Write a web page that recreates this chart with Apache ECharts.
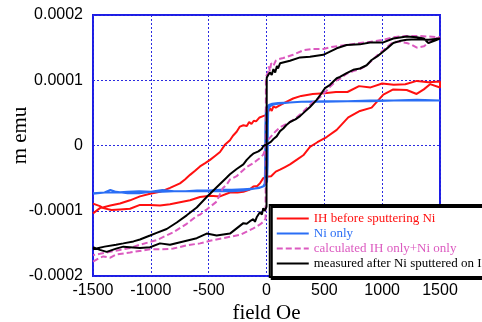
<!DOCTYPE html>
<html>
<head>
<meta charset="utf-8">
<script src="https://cdn.jsdelivr.net/npm/echarts@6/dist/echarts.min.js"></script>
<style>
  html, body { margin: 0; padding: 0; background: #fff; }
  #chart { width: 482px; height: 322px; }
</style>
</head>
<body>
<div id="chart"></div>
<script>
// field in Oe, moment in units of 1e-4 emu
const xTicks = [-1500, -1000, -500, 0, 500, 1000, 1500];
const yTicks = [-2, -1, 0, 1, 2];

const redDownH = [1500, 1400, 1300, 1200, 1100, 1000, 900, 800, 700, 600, 500, 400, 300, 230, 150, 110, 80, 60, 45, 30, 15, 5, 0, -10, -30, -60, -90, -110, -130, -150, -170, -200, -230, -258, -290, -316, -360, -402, -445, -488, -530, -575, -620, -661, -705, -748, -834, -921, -1007, -1094, -1180, -1267, -1350, -1440, -1500];
const redDownM = [0.98, 0.97, 0.99, 0.94, 0.93, 0.95, 0.89, 0.91, 0.82, 0.82, 0.80, 0.79, 0.76, 0.72, 0.65, 0.61, 0.58, 0.60, 0.53, 0.57, 0.52, 0.55, 0.47, 0.49, 0.45, 0.43, 0.37, 0.38, 0.33, 0.36, 0.30, 0.31, 0.29, 0.21, 0.15, 0.08, 0.01, -0.10, -0.16, -0.22, -0.27, -0.32, -0.39, -0.45, -0.52, -0.58, -0.65, -0.71, -0.74, -0.78, -0.84, -0.89, -0.92, -0.96, -1.04];
const redUpH = [-1500, -1440, -1411, -1340, -1267, -1180, -1094, -1007, -921, -834, -748, -661, -575, -488, -402, -316, -250, -200, -150, -114, -80, -56, -28, 0, 40, 80, 117, 160, 203, 260, 318, 376, 440, 520, 607, 707, 808, 909, 1010, 1096, 1212, 1298, 1360, 1414, 1500];
const redUpM = [-0.89, -0.93, -0.96, -0.99, -0.98, -0.97, -0.91, -0.91, -0.92, -0.90, -0.87, -0.84, -0.79, -0.77, -0.78, -0.72, -0.72, -0.71, -0.68, -0.63, -0.62, -0.58, -0.50, -0.48, -0.47, -0.40, -0.37, -0.33, -0.29, -0.22, -0.15, -0.02, 0.05, 0.13, 0.24, 0.43, 0.53, 0.58, 0.78, 0.86, 0.85, 0.79, 0.86, 0.94, 0.89];

const blueDownH = [1500, 1300, 1100, 900, 700, 500, 300, 200, 100, 50, 20, 5, -5, -10, -12, -15, -30, -60, -100, -200, -300, -400, -500, -600, -700, -800, -900, -1000, -1100, -1200, -1300, -1400, -1500];
const blueDownM = [0.70, 0.70, 0.69, 0.69, 0.68, 0.68, 0.67, 0.66, 0.65, 0.64, 0.62, 0.60, 0.56, 0.30, -0.30, -0.58, -0.63, -0.65, -0.66, -0.67, -0.68, -0.68, -0.69, -0.69, -0.70, -0.70, -0.71, -0.71, -0.70, -0.71, -0.72, -0.72, -0.73];
const blueUpH = [-1500, -1400, -1350, -1300, -1200, -1100, -1000, -900, -800, -700, -600, -500, -400, -300, -200, -100, -50, -20, -5, 5, 10, 12, 15, 30, 60, 100, 200, 300, 500, 700, 900, 1100, 1300, 1500];
const blueUpM = [-0.74, -0.72, -0.68, -0.71, -0.73, -0.73, -0.71, -0.68, -0.70, -0.70, -0.70, -0.70, -0.70, -0.70, -0.69, -0.66, -0.64, -0.62, -0.60, -0.55, -0.30, 0.30, 0.55, 0.60, 0.63, 0.64, 0.66, 0.67, 0.67, 0.68, 0.68, 0.69, 0.69, 0.69];

const calcUpH = [-1500, -1440, -1411, -1350, -1300, -1180, -1007, -900, -806, -690, -575, -488, -402, -316, -229, -171, -114, -56, -28, -8, -5, 0, 10, 20, 30, 40, 60, 80, 100, 145, 230, 320, 400, 491, 560, 693, 808, 900, 1010, 1096, 1212, 1300, 1400, 1500];
const calcUpM = [-1.78, -1.72, -1.70, -1.72, -1.67, -1.64, -1.59, -1.59, -1.58, -1.53, -1.50, -1.46, -1.43, -1.40, -1.37, -1.32, -1.27, -1.21, -1.17, -1.12, 1.05, 1.08, 1.11, 1.21, 1.14, 1.26, 1.22, 1.30, 1.32, 1.34, 1.39, 1.46, 1.48, 1.48, 1.51, 1.54, 1.57, 1.59, 1.62, 1.66, 1.68, 1.68, 1.67, 1.66];
const calcDownH = [1500, 1450, 1414, 1360, 1300, 1250, 1212, 1150, 1096, 1050, 1010, 950, 909, 866, 808, 750, 693, 635, 607, 549, 520, 463, 434, 400, 376, 318, 260, 203, 160, 117, 80, 40, 10, 0, -13, -28, -56, -85, -114, -171, -258, -316, -344, -380, -431, -517, -575, -603, -690, -806, -949, -1094, -1180, -1267, -1353, -1440, -1500];
const calcDownM = [1.66, 1.64, 1.59, 1.52, 1.50, 1.55, 1.57, 1.59, 1.59, 1.52, 1.46, 1.37, 1.30, 1.23, 1.17, 1.14, 1.10, 1.02, 1.00, 0.90, 0.84, 0.74, 0.70, 0.66, 0.62, 0.52, 0.43, 0.36, 0.32, 0.28, 0.22, 0.14, 0.08, 0.03, -0.07, -0.14, -0.19, -0.23, -0.27, -0.33, -0.47, -0.52, -0.60, -0.66, -0.86, -0.98, -1.06, -1.08, -1.20, -1.33, -1.45, -1.52, -1.57, -1.60, -1.63, -1.66, -1.68];

const measUpH = [-1500, -1440, -1382, -1300, -1238, -1094, -1007, -921, -834, -719, -603, -517, -431, -316, -258, -200, -171, -143, -114, -100, -85, -70, -56, -40, -28, -15, 0, 2, 15, 30, 45, 60, 75, 90, 100, 117, 160, 203, 290, 376, 491, 607, 693, 808, 895, 1010, 1096, 1212, 1298, 1360, 1399, 1457, 1500];
const measUpM = [-1.56, -1.60, -1.63, -1.58, -1.55, -1.57, -1.56, -1.50, -1.52, -1.47, -1.42, -1.35, -1.38, -1.35, -1.27, -1.19, -1.20, -1.16, -1.13, -1.17, -1.10, -1.13, -1.02, -1.06, -0.96, -1.00, -0.94, 1.04, 1.08, 1.12, 1.08, 1.17, 1.12, 1.22, 1.18, 1.26, 1.28, 1.30, 1.35, 1.36, 1.39, 1.49, 1.54, 1.55, 1.58, 1.58, 1.64, 1.67, 1.66, 1.64, 1.57, 1.61, 1.64];
const measDownH = [1500, 1400, 1300, 1212, 1150, 1096, 1050, 1010, 960, 909, 866, 808, 750, 693, 635, 607, 549, 506, 463, 434, 376, 320, 290, 250, 203, 170, 145, 117, 88, 60, 40, 16, 0, -10, -28, -40, -56, -70, -85, -110, -143, -171, -200, -258, -316, -344, -431, -517, -603, -690, -776, -863, -950, -1007, -1094, -1150, -1238, -1300, -1400, -1500];
const measDownM = [1.64, 1.62, 1.63, 1.62, 1.60, 1.57, 1.50, 1.44, 1.37, 1.31, 1.23, 1.18, 1.16, 1.11, 1.05, 1.03, 0.93, 0.88, 0.77, 0.70, 0.59, 0.50, 0.45, 0.40, 0.36, 0.31, 0.26, 0.22, 0.14, 0.10, 0.06, 0.03, 0.00, 0.01, -0.01, -0.05, -0.04, -0.09, -0.06, -0.12, -0.17, -0.22, -0.29, -0.36, -0.44, -0.49, -0.64, -0.79, -0.95, -1.07, -1.18, -1.28, -1.34, -1.38, -1.44, -1.47, -1.50, -1.52, -1.55, -1.59];

const seriesNames = ['IH before sputtering Ni', 'Ni only', 'calculated IH only+Ni only', 'measured after Ni sputtered on IH'];
const seriesColors = ['#ff1010', '#2a6ef5', '#dc5ac0', '#000000'];

const zip = (hs, ms) => hs.map((h, i) => [h, ms[i]]);
const loop = (down, downM, up, upM) => zip(up, upM).concat(zip(down, downM));

const loops = [
  loop(redDownH, redDownM, redUpH, redUpM),
  loop(blueDownH, blueDownM, blueUpH, blueUpM),
  loop(calcDownH, calcDownM, calcUpH, calcUpM),
  loop(measDownH, measDownM, measUpH, measUpM),
];

const chart = echarts.init(document.getElementById('chart'), null, { renderer: 'canvas' });

const gridLine = { show: true, lineStyle: { color: '#2a2ae0', type: [2, 2], width: 1 } };

chart.setOption({
  animation: false,
  backgroundColor: '#fff',
  grid: {
    left: 93, top: 15, right: 42, bottom: 46,
    containLabel: false,
    outerBoundsMode: 'none',
    show: true, borderColor: '#1c1ce6', borderWidth: 2,
  },
  xAxis: {
    type: 'value',
    min: xTicks[0],
    max: xTicks[xTicks.length - 1],
    interval: 500,
    name: 'field Oe',
    nameLocation: 'middle',
    nameGap: 27,
    nameMoveOverlap: false,
    nameTextStyle: { fontFamily: 'Liberation Serif', fontSize: 21, color: '#000' },
    axisLine: { show: false },
    axisTick: { show: false },
    axisLabel: {
      margin: 7,
      fontFamily: 'Liberation Sans',
      fontSize: 16,
      color: '#000',
      formatter: v => String(v),
    },
    splitLine: gridLine,
  },
  yAxis: {
    type: 'value',
    min: yTicks[0],
    max: yTicks[yTicks.length - 1],
    interval: 1,
    name: 'm emu',
    nameLocation: 'middle',
    nameGap: 62,
    nameMoveOverlap: false,
    nameTextStyle: { fontFamily: 'Liberation Serif', fontSize: 21, color: '#000', padding: [0, 0, 0, 20] },
    axisLine: { show: false },
    axisTick: { show: false },
    axisLabel: {
      margin: 10,
      fontFamily: 'Liberation Sans',
      fontSize: 16,
      color: '#000',
      formatter: v => (v === 0 ? '0' : (v / 10000).toFixed(4)),
    },
    splitLine: gridLine,
  },
  legend: {
    orient: 'vertical',
    right: -19,
    top: 205,
    padding: [6, 10, 6, 6],
    itemWidth: 32,
    itemHeight: 12,
    itemGap: 0,
    itemStyle: { opacity: 0 },
    backgroundColor: '#fff',
    borderColor: '#000',
    borderWidth: 2,
    shadowColor: '#000',
    shadowBlur: 0,
    shadowOffsetX: 2,
    shadowOffsetY: 2,
    textStyle: { fontFamily: 'Liberation Serif', fontSize: 13, lineHeight: 15 },
    data: seriesNames.map((name, i) => ({ name, textStyle: { color: seriesColors[i] } })),
  },
  series: loops.map((data, i) => ({
    name: seriesNames[i],
    type: 'line',
    data,
    symbol: 'none',
    color: seriesColors[i],
    lineStyle: {
      color: seriesColors[i],
      width: 2,
      type: i === 2 ? [6, 3] : 'solid',
    },
    z: 2 + i,
  })),
});
</script>
</body>
</html>
